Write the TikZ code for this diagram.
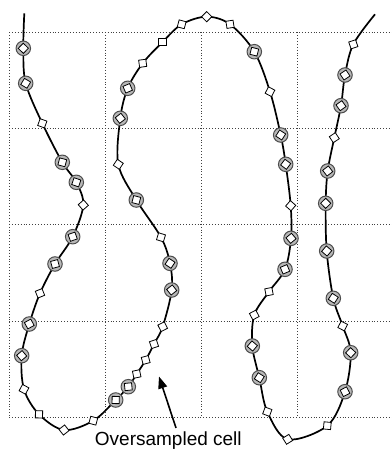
\documentclass[tikz,border=0pt]{standalone}
\usepackage{fontspec}
\setmainfont{Liberation Sans}
\usetikzlibrary{arrows.meta}
\begin{document}
\begin{tikzpicture}[x=1pt,y=-1pt,
  curve/.style={line width=1.7pt, line join=round},
  gridline/.style={dotted, line width=0.9pt, black!75},
  ring/.style={circle, draw=black!70, fill=black!28, line width=1pt, minimum size=14.5pt, inner sep=0pt},
  dia/.style={rectangle, draw=black, fill=white, line width=0.8pt, minimum size=7.2pt, inner sep=0pt},
  arr/.style={line width=1.6pt, -{Triangle[length=12pt,width=9pt]}},
  lab/.style={font=\fontsize{19}{22}\selectfont, inner sep=0pt}]
\useasboundingbox (0,0) rectangle (391,449);
% grid
\foreach \gx in {9,105.3,201.6,297.9} \draw[gridline] (\gx,32.3) -- (\gx,417.5);
\foreach \gy in {32.3,128.6,224.9,321.2,417.5} \draw[gridline] (9,\gy) -- (394,\gy);
% curve points: x/y/kind (0 none, 1 ring+diamond, 2 diamond)
\def\pts{24.3/13.3/0,23.3/48.3/1,25.7/83.3/1,42.3/123.3/2,62.3/162.3/1,76.3/182.3/1,
83.3/205/2,72.7/236.7/1,55/264/1,40/293.3/2,29.3/324/1,21.7/355.7/1,
24/389.3/2,39/414.3/2,64/430/2,93.3/420.7/2,115.7/400/1,128.3/386.7/1,
136.7/374/2,145.7/360/2,154/344/2,162.7/326.7/2,171.7/290/1,170/263.3/1,
161/237.3/2,136.3/200/1,118.3/164.3/2,120.3/118.3/1,127.7/88.3/1,142.7/63.3/2,
162.3/42.3/2,181.7/24.3/2,206.7/16.7/2,230/24.3/2,254.3/51.7/1,270/91.7/2,
280.7/135/1,285.7/164.3/1,290.7/205.7/2,291/238.3/1,285/269.3/1,269/291.7/2,
254.3/315/2,252.3/346/1,259.3/377.7/1,267.3/411.7/2,287.7/439.3/2,327.3/425.7/2,
345/391.7/1,350.7/352.7/1,342.7/326/2,333.3/298.3/1,326.7/251/1,325.7/203.3/1,
327.7/171/1,334.3/137.7/2,341/105.7/1,345/75/1,353.3/44.3/2,375/14.3/0}
\foreach [count=\i] \px/\py/\pk in \pts {\coordinate (p\i) at (\px,\py);}
\def\curvepts{}
\foreach \i in {1,...,60}{\xdef\curvepts{\curvepts(p\i)}}
\edef\drawcurve{\noexpand\draw[curve] plot[smooth,tension=0.55] coordinates {\curvepts};}
\drawcurve
% markers
\foreach [count=\i] \px/\py/\pk in \pts {
  \ifnum\pk>0
    \pgfmathtruncatemacro\iprev{\i-1}
    \pgfmathtruncatemacro\inext{\i+1}
    \pgfmathanglebetweenpoints{\pgfpointanchor{p\iprev}{center}}{\pgfpointanchor{p\inext}{center}}
    \pgfmathsetmacro\rot{\pgfmathresult+45}
    \ifnum\pk=1 \node[ring] (r\i) at (p\i) {};\fi
    \node[dia, rotate=\rot] (d\i) at (p\i) {};
  \fi
}
% label and arrow
\node[lab, anchor=base] (lbl) at (168.3,445.3) {Oversampled cell};
\coordinate (tip) at (159,376.5);
\draw[arr] ([xshift=7.7pt,yshift=3.4pt]lbl.north) -- (tip);
\end{tikzpicture}
\end{document}
